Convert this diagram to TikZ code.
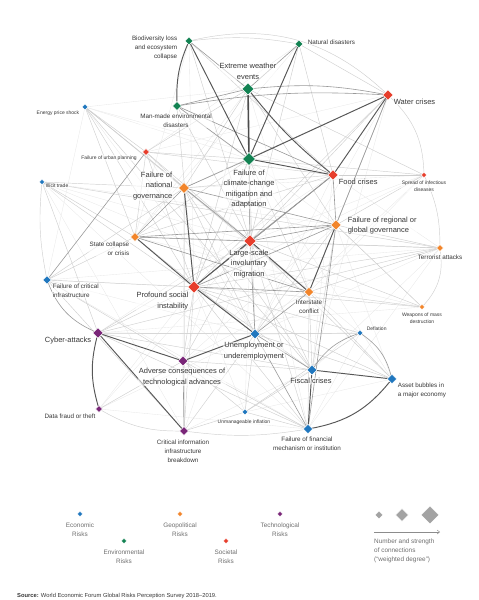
\documentclass[tikz,border=0pt]{standalone}
\usepackage{fontspec}
\setmainfont{Liberation Sans}
\usetikzlibrary{shapes.geometric,backgrounds,arrows.meta}
\definecolor{riskecon}{RGB}{32,119,190}
\definecolor{riskenv}{RGB}{18,130,82}
\definecolor{riskgeo}{RGB}{242,133,43}
\definecolor{risksoc}{RGB}{231,62,44}
\definecolor{risktech}{RGB}{122,38,120}
\definecolor{labtext}{RGB}{55,55,55}
\definecolor{legtext}{RGB}{110,110,110}
\newcommand\fbig{\fontsize{7.5}{10.6}\selectfont}
\newcommand\fmid{\fontsize{6.3}{8.8}\selectfont}
\newcommand\fsml{\fontsize{5}{7}\selectfont}
\newcommand\fleg{\fontsize{6.4}{9}\selectfont}
\tikzset{
  risk/.style={diamond, aspect=1, inner sep=0pt, draw=white, line width=0.5pt},
  lbl/.style={inner sep=0.6pt, text=labtext, fill=white, fill opacity=0.55, text opacity=1},
  faint/.style={draw=black!9, line width=0.35pt},
  weak/.style={draw=black!19, line width=0.45pt},
  mid/.style={draw=black!40, line width=0.6pt},
  strong/.style={draw=black!66, line width=0.95pt},
  heavy/.style={draw=black!70, line width=1.6pt}
}
\begin{document}
\begin{tikzpicture}[x=1pt, y=-1pt]
  \useasboundingbox (0,0) rectangle (479,600);
  \foreach \n/\x/\y/\c/\s in {bio/189/41/riskenv/8pt, nat/299/44/riskenv/8pt,
      ext/248/89/riskenv/12pt, man/177/106/riskenv/9pt, ene/85/107/riskecon/6pt,
      urb/146/152/risksoc/7pt, ccm/249/159/riskenv/13pt, wat/388/95/risksoc/10.5pt,
      food/333/175/risksoc/10.5pt, spr/424/175/risksoc/5.5pt, ill/42/182/riskecon/5.5pt,
      ngov/184/188/riskgeo/11pt, sta/135/237/riskgeo/9pt, rgov/336/225/riskgeo/10.5pt,
      ter/440/248/riskgeo/7pt, mig/250/241/risksoc/12.5pt, cri/47/280/riskecon/8.5pt,
      soc/194/287/risksoc/12.5pt, ist/309/292/riskgeo/9.5pt, wmd/422/307/riskgeo/5.5pt,
      cyb/98/333/risktech/10.5pt, une/255/334/riskecon/10pt, def/360/333/riskecon/6pt,
      adv/183/361/risktech/10pt, fis/312/370/riskecon/10pt, ass/392/379/riskecon/9.5pt,
      dat/99/409/risktech/7pt, inf/245/412/riskecon/6pt, fin/308/429/riskecon/9.5pt,
      cii/184/431/risktech/9pt}
    \node[risk, fill=\c, minimum size=\s] (\n) at (\x,\y) {};
  \begin{scope}[on background layer]
  \foreach \a/\b in {ene/ccm, ene/ext, ene/food, ene/ist, ene/une, ene/cri, ill/mig, ill/ist,
      ill/cii, ill/rgov, ill/fin, spr/mig, spr/soc, spr/ist, spr/ngov, spr/une, wmd/cyb,
      wmd/rgov, wmd/sta, inf/soc, inf/mig, inf/ass, def/fin, def/mig, def/cyb, dat/soc,
      dat/une, dat/fin, cii/fis, bio/soc, nat/soc, nat/urb, ter/fin, ter/une, ter/fis,
      ter/food, cri/fin, cri/une, cri/ist, cri/ter, urb/wat, urb/une, ass/rgov, ass/ccm,
      adv/ist, adv/rgov, adv/ngov, man/rgov, bio/sta, nat/sta, wat/une, wat/fis, food/une,
      food/fis, food/cyb, ext/ist, ext/sta, ccm/adv, ccm/fin, mig/cii, mig/dat, ngov/cii}
    \draw[faint] (\a) -- (\b);
  \foreach \a/\b in {bio/food, bio/mig, nat/wat, nat/food, nat/mig, ext/mig, ext/soc,
      ext/rgov, ext/spr, ext/ngov, ext/urb, wat/mig, wat/soc, wat/rgov, wat/ist, wat/ngov,
      food/spr, food/ngov, food/sta, ccm/soc, ccm/sta, ccm/urb, ccm/ist, ccm/spr, ccm/une,
      man/mig, man/soc, urb/ngov, urb/soc, urb/mig, urb/food, urb/sta, ene/ngov, ene/sta,
      ene/soc, ene/mig, ene/fis, ene/urb, ill/sta, ill/soc, ill/ngov, ill/ter, ill/cyb,
      ngov/ist, ngov/une, ngov/fis, sta/une, sta/ter, sta/cri, rgov/ter, rgov/wmd,
      rgov/spr, rgov/une, rgov/fis, ter/mig, ter/soc, ter/ist, ter/cyb, wmd/ist, wmd/mig,
      wmd/soc, cri/soc, cri/cii, cri/adv, cri/ngov, cyb/soc, cyb/une, cyb/mig, cyb/fis,
      cyb/fin, soc/adv, soc/fis, soc/fin, soc/cii, mig/adv, mig/fis, ist/fis, ist/ass,
      une/def, une/ass, une/inf, une/cii, adv/fis, adv/fin, adv/inf, adv/dat, inf/fin,
      inf/def, fis/inf, def/soc, ass/soc, ass/mig, fin/mig, fin/ist, cii/inf}
    \draw[weak] (\a) -- (\b);
  \foreach \a/\b/\bend in {bio/wat/28, wat/spr/22, spr/ter/12, ter/wmd/25, ill/cri/-8,
      dat/cii/-15, cii/fin/-8, bio/nat/8}
    \draw[weak] (\a) to[bend left=\bend] (\b);
  \foreach \a/\b in {man/ext, man/ccm, bio/ext, nat/ext, ngov/sta, mig/ccm, mig/food,
      mig/rgov, sta/mig, sta/rgov, sta/ist, une/fis, cri/urb, ngov/mig, soc/rgov, soc/food,
      une/mig, une/fin, fin/rgov, man/food, ngov/ccm, ngov/rgov, food/rgov, soc/ist,
      ist/une, adv/cii, wat/rgov, food/soc}
    \draw[mid] (\a) -- (\b);
  \foreach \a/\b/\bend in {ext/wat/8, man/wat/6, def/ass/20, def/fis/-18, cri/cyb/-22}
    \draw[mid] (\a) to[bend left=\bend] (\b);
  \foreach \a/\b in {ccm/wat, food/wat, nat/ccm, bio/ccm, cyb/cii, cyb/adv, adv/une,
      soc/une, rgov/ist, fis/ass, fis/fin, ngov/soc, sta/soc, soc/mig, mig/ist, ccm/food}
    \draw[strong] (\a) -- (\b);
  \foreach \a/\b/\bend in {ext/food/-6, bio/man/-12, ass/fin/20, cyb/dat/-15}
    \draw[strong] (\a) to[bend left=\bend] (\b);
  \draw[heavy] (ext) -- (ccm);
  \end{scope}
  \node[lbl, font=\fmid, anchor=east, align=right] (l-bio) at (178,48) {Biodiversity loss\\and ecosystem\\collapse};
  \node[lbl, font=\fmid, anchor=west] (l-nat) at (307,42.5) {Natural disasters};
  \node[lbl, font=\fbig, align=center] (l-ext) at (248,71.5) {Extreme weather\\events};
  \node[lbl, font=\fmid, align=center] (l-man) at (176,121) {Man-made environmental\\disasters};
  \node[lbl, font=\fsml] (l-ene) at (58,113) {Energy price shock};
  \node[lbl, font=\fsml] (l-urb) at (109,158) {Failure of urban planning};
  \node[lbl, font=\fbig, align=center] (l-ccm) at (249,189) {Failure of\\climate-change\\mitigation and\\adaptation};
  \node[lbl, font=\fbig, anchor=west] (l-food) at (338,182) {Food crises};
  \node[lbl, font=\fbig, anchor=west] (l-wat) at (393,102) {Water crises};
  \node[lbl, font=\fsml, align=center] (l-spr) at (424,186.5) {Spread of infectious\\diseases};
  \node[lbl, font=\fsml, anchor=west] (l-ill) at (45,186) {Illicit trade};
  \node[lbl, font=\fbig, anchor=east, align=right] (l-ngov) at (173,186) {Failure of\\national\\governance};
  \node[lbl, font=\fmid, anchor=east, align=right] (l-sta) at (130,249) {State collapse\\or crisis};
  \node[lbl, font=\fbig, anchor=west, align=left] (l-rgov) at (347,225.5) {Failure of regional or\\global governance};
  \node[lbl, font=\fmid] (l-ter) at (440,257) {Terrorist attacks};
  \node[lbl, font=\fbig, align=center] (l-mig) at (249,264) {Large-scale\\involuntary\\migration};
  \node[lbl, font=\fmid, anchor=west, align=left] (l-cri) at (52,291) {Failure of critical\\infrastructure};
  \node[lbl, font=\fbig, anchor=east, align=right] (l-soc) at (189,301) {Profound social\\instability};
  \node[lbl, font=\fmid, align=center] (l-ist) at (309,307) {Interstate\\conflict};
  \node[lbl, font=\fsml, align=center] (l-wmd) at (422,318.5) {Weapons of mass\\destruction};
  \node[lbl, font=\fbig, anchor=east] (l-cyb) at (92,341) {Cyber-attacks};
  \node[lbl, font=\fbig, align=center] (l-une) at (254,351) {Unemployment or\\underemployment};
  \node[lbl, font=\fsml, anchor=west] (l-def) at (366,329) {Deflation};
  \node[lbl, font=\fbig, align=center] (l-adv) at (182,377) {Adverse consequences of\\technological advances};
  \node[lbl, font=\fbig] (l-fis) at (311,381) {Fiscal crises};
  \node[lbl, font=\fmid, anchor=west, align=left] (l-ass) at (397,390.5) {Asset bubbles in\\a major economy};
  \node[lbl, font=\fmid] (l-dat) at (70,416) {Data fraud or theft};
  \node[lbl, font=\fsml] (l-inf) at (244,422) {Unmanageable inflation};
  \node[lbl, font=\fmid, align=center] (l-fin) at (307,443.5) {Failure of financial\\mechanism or institution};
  \node[lbl, font=\fmid, align=center] (l-cii) at (183,451) {Critical information\\infrastructure\\breakdown};
  \foreach \n/\x/\y/\c/\t in {leg-econ/80/514/riskecon/Economic, leg-env/124/541/riskenv/Environmental,
      leg-geo/180/514/riskgeo/Geopolitical, leg-soc/226/541/risksoc/Societal,
      leg-tech/280/514/risktech/Technological} {
    \node[risk, fill=\c, minimum size=5.5pt] (\n) at (\x,\y) {};
    \node[inner sep=0pt, text=legtext, font=\fleg, align=center] (\n-t) at (\x,{\y+15.5}) {\t\\Risks};
  }
  \node[risk, fill=black!36, minimum size=8pt] (deg-s) at (379,515) {};
  \node[risk, fill=black!36, minimum size=13pt] (deg-m) at (402,515) {};
  \node[risk, fill=black!36, minimum size=18pt] (deg-l) at (430,515) {};
  \coordinate (deg-a) at (374,532);
  \coordinate (deg-b) at (440,532);
  \draw[black!45, line width=0.5pt, -{Straight Barb[length=2.5pt, width=4pt]}] (deg-a) -- (deg-b);
  \node[inner sep=0pt, text=legtext, font=\fleg, anchor=west, align=left] (deg-t) at (374,551) {Number and strength\\of connections\\(“weighted degree”)};
  \node[inner sep=0pt, text=labtext, font=\fontsize{5.8}{7}\selectfont, anchor=west] (src) at (17,596) {\textbf{Source:} World Economic Forum Global Risks Perception Survey 2018–2019.};
\end{tikzpicture}
\end{document}
